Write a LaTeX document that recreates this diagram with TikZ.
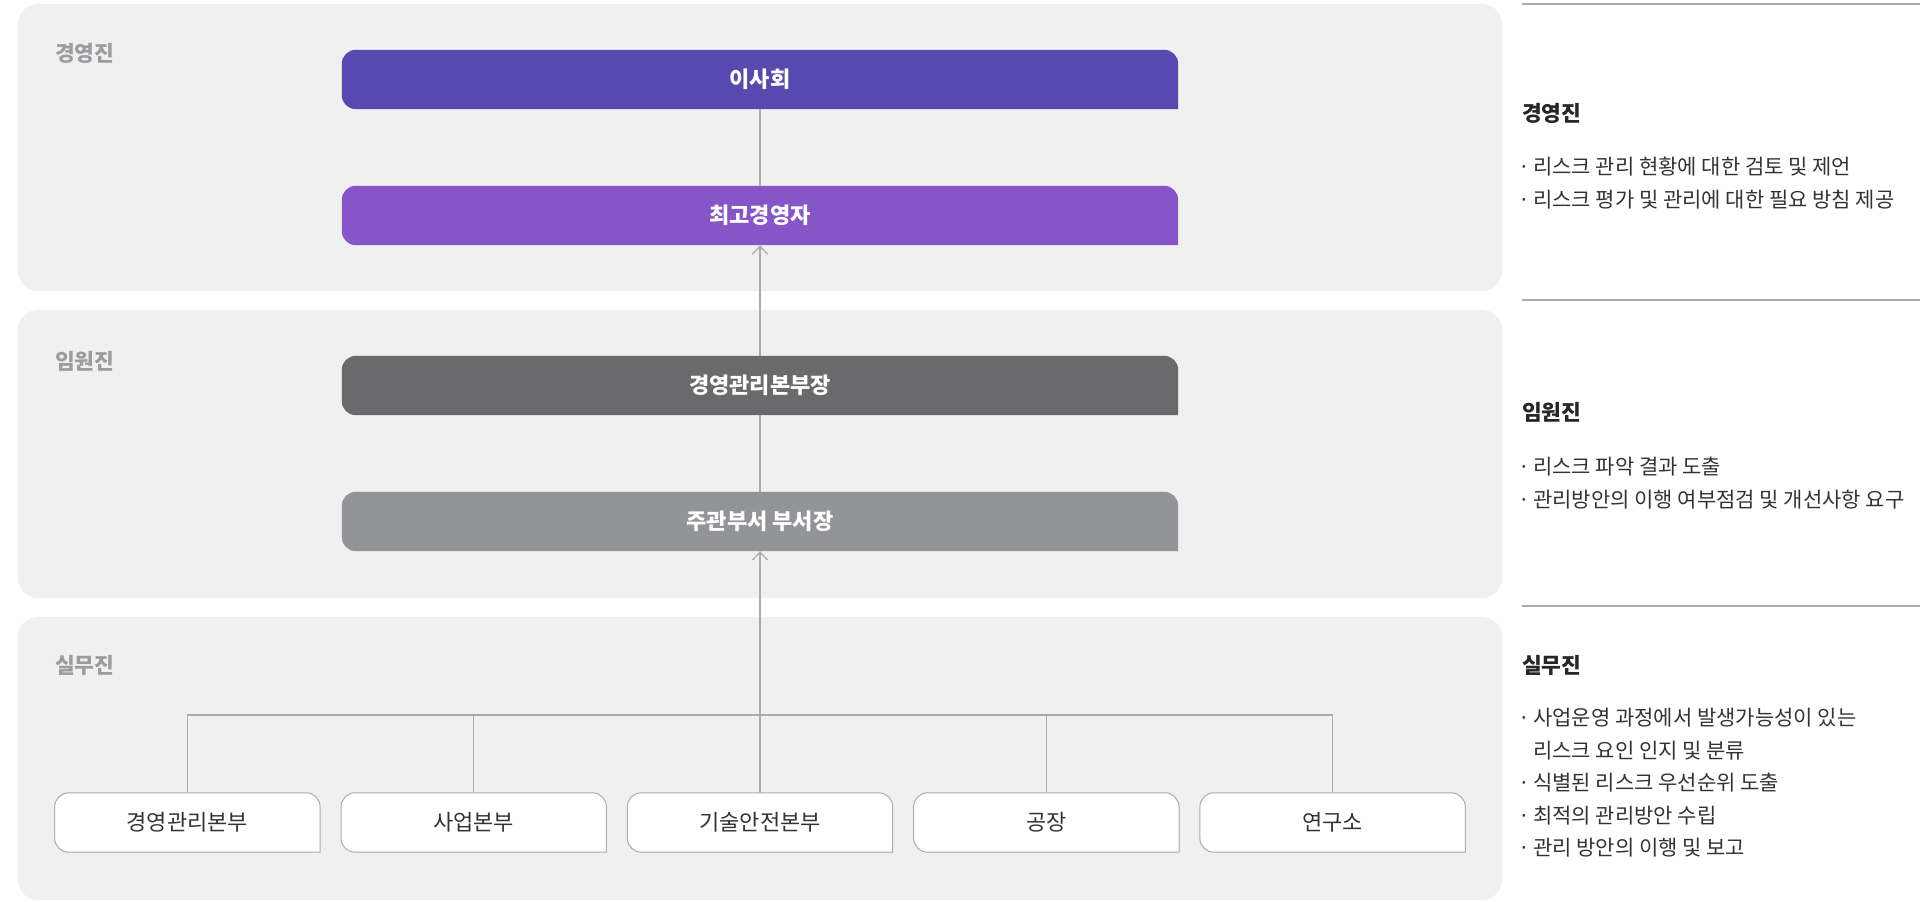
\documentclass[tikz,border=0pt]{standalone}
\usepackage{fontspec}
\setmainfont{Noto Sans CJK KR}
\usepackage{tikz}
\usetikzlibrary{arrows.meta, backgrounds}

\definecolor{panelgray}{HTML}{F0F0F0}
\definecolor{boardc}{HTML}{5849B1}
\definecolor{ceoc}{HTML}{8656C9}
\definecolor{mgrc}{HTML}{6A6A6D}
\definecolor{headc}{HTML}{939498}
\definecolor{lanec}{HTML}{9C9CA0}
\definecolor{linkc}{HTML}{ABABAB}
\definecolor{textc}{HTML}{333333}

% card: three round corners, bottom right square
\newcommand{\cardpath}[2]{%
	\path[#2] (#1.south east) -- ([yshift=-14pt]#1.north east)
		arc[start angle=0, end angle=90, radius=14pt] -- ([xshift=14pt]#1.north west)
		arc[start angle=90, end angle=180, radius=14pt] -- ([yshift=14pt]#1.south west)
		arc[start angle=180, end angle=270, radius=14pt] -- cycle;}
\newcommand{\bul}{\makebox[11pt][l]{\makebox[4pt][c]{·}}}

\begin{document}
\begin{tikzpicture}[x=1pt, y=1pt, >={Straight Barb[length=8pt, width=15pt]},
	topcard/.style={minimum width=836pt, minimum height=59pt, inner sep=0pt, text=white, font=\bfseries\fontsize{22}{26}\selectfont},
	deptcard/.style={minimum width=265pt, minimum height=59pt, inner sep=0pt, text=textc, font=\fontsize{22}{26}\selectfont},
	lane/.style={anchor=west, inner sep=0pt, text=lanec, font=\bfseries\fontsize{21.5}{26}\selectfont},
	notehead/.style={anchor=west, inner sep=0pt, text=black!85, font=\bfseries\fontsize{21.5}{26}\selectfont},
	notebody/.style={anchor=north west, inner sep=0pt, align=left, text=textc, font=\fontsize{21}{32.5}\selectfont},
	link/.style={draw=linkc, line width=1.2pt}]
	\useasboundingbox (0,0) rectangle (1920,902);

	% lanes
	\node[lane] (l1) at (55,849) {경영진};
	\node[lane] (l2) at (55,541) {임원진};
	\node[lane] (l3) at (55,237) {실무진};

	\node[topcard] (board) at (760,822.5) {이사회};
	\node[topcard] (ceo) at (760,686.5) {최고경영자};
	\node[topcard] (mgr) at (760,516.5) {경영관리본부장};
	\node[topcard] (head) at (760,380.5) {주관부서 부서장};

	\node[deptcard] (d1) at (187.4,79.5) {경영관리본부};
	\node[deptcard] (d2) at (473.7,79.5) {사업본부};
	\node[deptcard] (d3) at (760,79.5) {기술안전본부};
	\node[deptcard] (d4) at (1046.3,79.5) {공장};
	\node[deptcard] (d5) at (1332.6,79.5) {연구소};

	\begin{scope}[on background layer]
		\fill[panelgray, rounded corners=20pt] (18,611) rectangle (1502,898);
		\fill[panelgray, rounded corners=20pt] (18,304) rectangle (1502,592);
		\fill[panelgray, rounded corners=20pt] (18,2) rectangle (1502,285);
		\cardpath{board}{fill=boardc}
		\cardpath{ceo}{fill=ceoc}
		\cardpath{mgr}{fill=mgrc}
		\cardpath{head}{fill=headc}
		\foreach \d in {d1,d2,d3,d4,d5}{
			\cardpath{\d}{fill=white, draw=linkc, line width=1pt}
		}
	\end{scope}

	% connectors
	\coordinate (bus) at (760,187);
	\draw[link] (board.south) -- (ceo.north);
	\draw[link, ->] (mgr.north) -- (ceo.south);
	\draw[link] (head.north) -- (mgr.south);
	\draw[link, ->] (d3.north) -- (head.south);
	\draw[link] (d1.north) -- (d1.north |- bus) -- (d5.north |- bus) -- (d5.north);
	\draw[link] (d2.north) -- (d2.north |- bus);
	\draw[link] (d4.north) -- (d4.north |- bus);

	% notes on the right
	\draw[linkc, line width=1.5pt] (1522,898) -- (1920,898);
	\draw[linkc, line width=1.5pt] (1522,602) -- (1920,602);
	\draw[linkc, line width=1.5pt] (1522,296) -- (1920,296);

	\node[notehead] (h1) at (1522,789) {경영진};
	\node[notebody] (b1) at (1522,745) {\bul 리스크 관리 현황에 대한 검토 및 제언\\
		\bul 리스크 평가 및 관리에 대한 필요 방침 제공};
	\node[notehead] (h2) at (1522,490) {임원진};
	\node[notebody] (b2) at (1522,445) {\bul 리스크 파악 결과 도출\\
		\bul 관리방안의 이행 여부점검 및 개선사항 요구};
	\node[notehead] (h3) at (1522,237) {실무진};
	\node[notebody] (b3) at (1522,194) {\bul 사업운영 과정에서 발생가능성이 있는\\
		\hspace*{11pt}리스크 요인 인지 및 분류\\
		\bul 식별된 리스크 우선순위 도출\\
		\bul 최적의 관리방안 수립\\
		\bul 관리 방안의 이행 및 보고};
\end{tikzpicture}
\end{document}
